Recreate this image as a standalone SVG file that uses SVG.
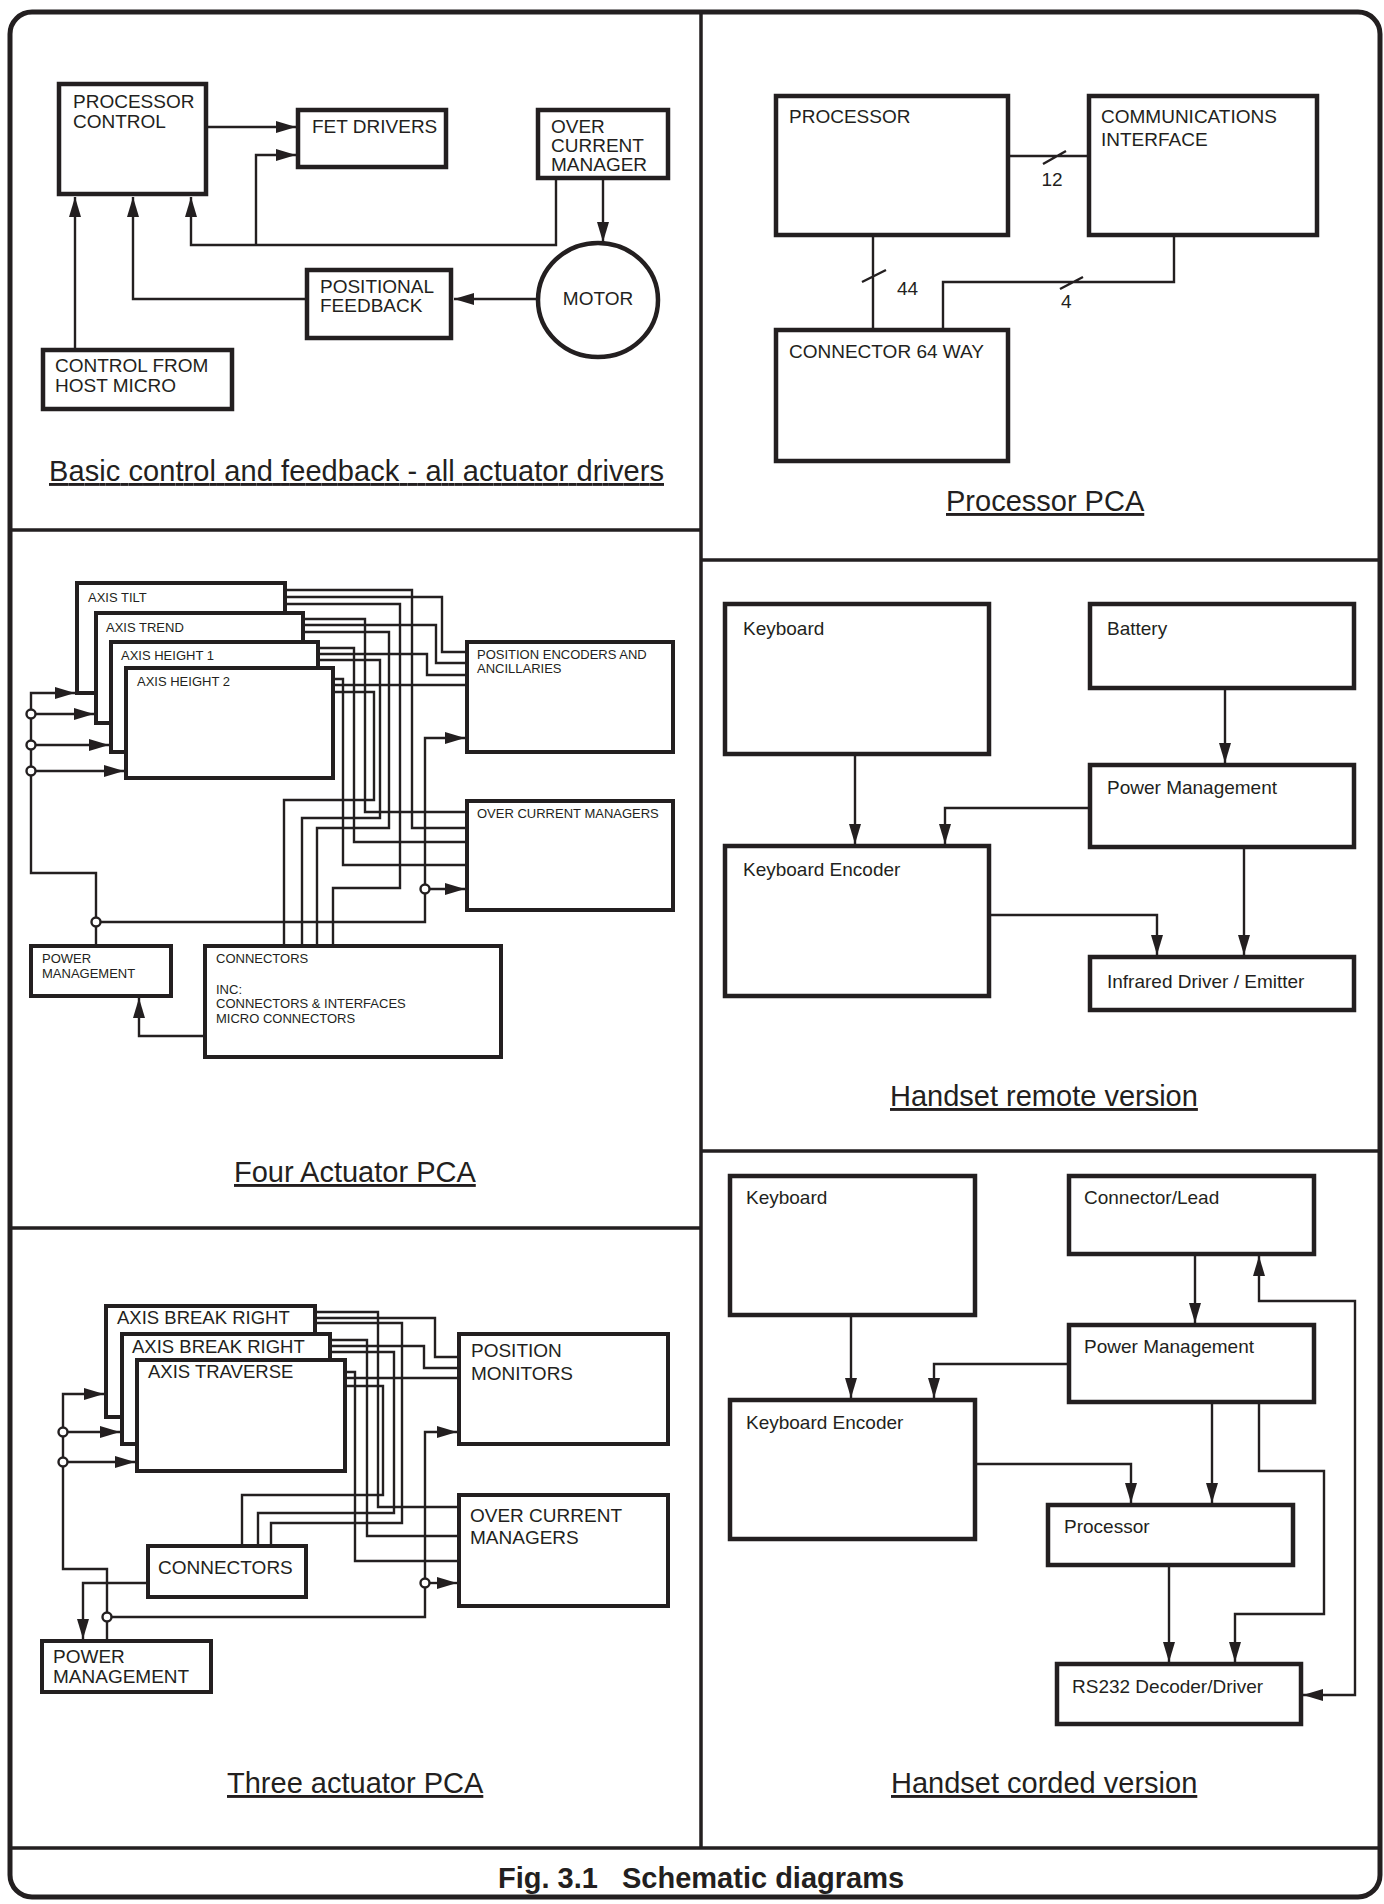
<svg xmlns="http://www.w3.org/2000/svg" width="1384" height="1904" viewBox="0 0 1384 1904">
<style>
.bg{fill:#fff}
.frame{fill:none;stroke:#231f20;stroke-width:5}
.div{fill:none;stroke:#231f20;stroke-width:3.5}
.box{fill:#fff;stroke:#231f20;stroke-width:4.5}
.sbox{fill:#fff;stroke:#231f20;stroke-width:4}
.w{fill:none;stroke:#231f20;stroke-width:2.4}
.a{marker-end:url(#ah)}
.jn{fill:#fff;stroke:#231f20;stroke-width:2.4}
text{font-family:'Liberation Sans',Arial,Helvetica,sans-serif;fill:#231f20}
.t19{font-size:19px}
.t18{font-size:18.5px}
.t13{font-size:13px}
.ttl{font-size:29px;text-decoration:underline}
.cap{font-size:29px;font-weight:bold}
</style>
<defs>
<marker id="ah" markerUnits="userSpaceOnUse" viewBox="0 0 20 12" markerWidth="20" markerHeight="12" refX="20" refY="6" orient="auto"><path d="M0,0 L20,6 L0,12 z" fill="#231f20"/></marker>
<marker id="ahs" markerUnits="userSpaceOnUse" viewBox="0 0 20 12" markerWidth="20" markerHeight="12" refX="20" refY="6" orient="auto-start-reverse"><path d="M0,0 L20,6 L0,12 z" fill="#231f20"/></marker>
</defs>
<rect class="bg" x="0" y="0" width="1384" height="1904"/>
<g id="frame">
<rect class="frame" x="10" y="12" width="1370" height="1885" rx="22"/>
<path class="div" d="M701,12 V1848 M10,530 H701 M10,1228 H701 M701,560 H1380 M701,1151 H1380 M10,1848 H1380"/>
</g>

<!-- Panel 1: Basic control -->
<g id="p1-processor-control"><rect class="box" x="59" y="84" width="147" height="110"/><text class="t19" x="73" y="108">PROCESSOR</text><text class="t19" x="73" y="128">CONTROL</text></g>
<g id="p1-fet-drivers"><rect class="box" x="298" y="110" width="148" height="57"/><text class="t19" x="312" y="133">FET DRIVERS</text></g>
<g id="p1-over-current"><rect class="box" x="538" y="110" width="130" height="68"/><text class="t19" x="551" y="133">OVER</text><text class="t19" x="551" y="152">CURRENT</text><text class="t19" x="551" y="171">MANAGER</text></g>
<g id="p1-motor"><ellipse class="box" cx="598" cy="300" rx="60" ry="57"/><text class="t19" x="598" y="305" text-anchor="middle">MOTOR</text></g>
<g id="p1-positional-feedback"><rect class="box" x="307" y="270" width="144" height="68"/><text class="t19" x="320" y="293">POSITIONAL</text><text class="t19" x="320" y="312">FEEDBACK</text></g>
<g id="p1-control-host"><rect class="box" x="43" y="350" width="189" height="59"/><text class="t19" x="55" y="372">CONTROL FROM</text><text class="t19" x="55" y="392">HOST MICRO</text></g>
<text class="ttl" x="49" y="481" textLength="615" lengthAdjust="spacing">Basic control and feedback - all actuator drivers</text>

<!-- Panel 2: Processor PCA -->
<g id="p2-processor"><rect class="box" x="776" y="96" width="232" height="139"/><text class="t19" x="789" y="123">PROCESSOR</text></g>
<g id="p2-comms"><rect class="box" x="1089" y="96" width="228" height="139"/><text class="t19" x="1101" y="123">COMMUNICATIONS</text><text class="t19" x="1101" y="146">INTERFACE</text></g>
<g id="p2-connector"><rect class="box" x="776" y="330" width="232" height="131"/><text class="t19" x="789" y="358">CONNECTOR 64 WAY</text></g>
<text class="ttl" x="946" y="511">Processor PCA</text>

<!-- Panel 3: Handset remote -->
<g id="p3-keyboard"><rect class="box" x="725" y="604" width="264" height="150"/><text class="t19" x="743" y="635">Keyboard</text></g>
<g id="p3-battery"><rect class="box" x="1090" y="604" width="264" height="84"/><text class="t19" x="1107" y="635">Battery</text></g>
<g id="p3-power"><rect class="box" x="1090" y="765" width="264" height="82"/><text class="t19" x="1107" y="794">Power Management</text></g>
<g id="p3-encoder"><rect class="box" x="725" y="846" width="264" height="150"/><text class="t19" x="743" y="876">Keyboard Encoder</text></g>
<g id="p3-infrared"><rect class="box" x="1090" y="957" width="264" height="53"/><text class="t19" x="1107" y="988">Infrared Driver / Emitter</text></g>
<text class="ttl" x="890" y="1106">Handset remote version</text>

<!-- Panel 4: Handset corded -->
<g id="p4-keyboard"><rect class="box" x="730" y="1176" width="245" height="139"/><text class="t19" x="746" y="1204">Keyboard</text></g>
<g id="p4-connector"><rect class="box" x="1069" y="1176" width="245" height="78"/><text class="t19" x="1084" y="1204">Connector/Lead</text></g>
<g id="p4-power"><rect class="box" x="1069" y="1325" width="245" height="77"/><text class="t19" x="1084" y="1353">Power Management</text></g>
<g id="p4-encoder"><rect class="box" x="730" y="1400" width="245" height="139"/><text class="t19" x="746" y="1429">Keyboard Encoder</text></g>
<g id="p4-processor"><rect class="box" x="1048" y="1505" width="245" height="60"/><text class="t19" x="1064" y="1533">Processor</text></g>
<g id="p4-rs232"><rect class="box" x="1057" y="1664" width="244" height="60"/><text class="t19" x="1072" y="1693">RS232 Decoder/Driver</text></g>
<text class="ttl" x="891" y="1793">Handset corded version</text>

<!-- Panel 5: Four actuator -->
<g id="p5-axis-tilt"><rect class="sbox" x="77" y="583" width="208" height="110"/><text class="t13" x="88" y="602">AXIS TILT</text></g>
<g id="p5-axis-trend"><rect class="sbox" x="96" y="613" width="207" height="110"/><text class="t13" x="106" y="632">AXIS TREND</text></g>
<g id="p5-axis-height1"><rect class="sbox" x="111" y="642" width="207" height="110"/><text class="t13" x="121" y="660">AXIS HEIGHT 1</text></g>
<g id="p5-axis-height2"><rect class="sbox" x="126" y="668" width="207" height="110"/><text class="t13" x="137" y="686">AXIS HEIGHT 2</text></g>
<g id="p5-encoders"><rect class="sbox" x="467" y="642" width="206" height="110"/><text class="t13" x="477" y="659">POSITION ENCODERS AND</text><text class="t13" x="477" y="673">ANCILLARIES</text></g>
<g id="p5-ocm"><rect class="sbox" x="467" y="801" width="206" height="109"/><text class="t13" x="477" y="818">OVER CURRENT MANAGERS</text></g>
<g id="p5-power"><rect class="sbox" x="31" y="946" width="140" height="50"/><text class="t13" x="42" y="963">POWER</text><text class="t13" x="42" y="978">MANAGEMENT</text></g>
<g id="p5-connectors"><rect class="sbox" x="205" y="946" width="296" height="111"/><text class="t13" x="216" y="963">CONNECTORS</text><text class="t13" x="216" y="994">INC:</text><text class="t13" x="216" y="1008">CONNECTORS &amp; INTERFACES</text><text class="t13" x="216" y="1023">MICRO CONNECTORS</text></g>
<text class="ttl" x="234" y="1182">Four Actuator PCA</text>

<!-- Panel 6: Three actuator -->
<g id="p6-break-right-1"><rect class="sbox" x="106" y="1306" width="209" height="111"/><text class="t18" x="117" y="1324">AXIS BREAK RIGHT</text></g>
<g id="p6-break-right-2"><rect class="sbox" x="122" y="1334" width="208" height="110"/><text class="t18" x="132" y="1353">AXIS BREAK RIGHT</text></g>
<g id="p6-traverse"><rect class="sbox" x="137" y="1360" width="208" height="111"/><text class="t18" x="148" y="1378">AXIS TRAVERSE</text></g>
<g id="p6-position-monitors"><rect class="sbox" x="459" y="1334" width="209" height="110"/><text class="t19" x="471" y="1357">POSITION</text><text class="t19" x="471" y="1380">MONITORS</text></g>
<g id="p6-ocm"><rect class="sbox" x="459" y="1495" width="209" height="111"/><text class="t19" x="470" y="1522">OVER CURRENT</text><text class="t19" x="470" y="1544">MANAGERS</text></g>
<g id="p6-connectors"><rect class="sbox" x="148" y="1546" width="158" height="51"/><text class="t19" x="158" y="1574">CONNECTORS</text></g>
<g id="p6-power"><rect class="sbox" x="42" y="1641" width="169" height="51"/><text class="t19" x="53" y="1663">POWER</text><text class="t19" x="53" y="1683">MANAGEMENT</text></g>
<text class="ttl" x="227" y="1793">Three actuator PCA</text>

<g id="caption"><text class="cap" x="498" y="1888">Fig. 3.1</text><text class="cap" x="622" y="1888">Schematic diagrams</text></g>

<g id="connectors">
<!-- panel 1 -->
<path class="w a" d="M208,127 H296"/>
<path class="w a" d="M256,245 V155 H296"/>
<path class="w a" d="M556,180 V245 H191 V197"/>
<path class="w a" d="M603,180 V242"/>
<path class="w a" d="M538,299 H454"/>
<path class="w a" d="M307,299 H133 V197"/>
<path class="w a" d="M75,348 V197"/>
<!-- panel 2 -->
<path class="w" d="M1008,156 H1089 M1043,164 L1066,151"/>
<path class="w" d="M873,235 V330 M862,282 L886,270"/>
<path class="w" d="M1174,235 V282 H943 V330 M1060,289 L1083,277"/>
<text class="t19" x="1052" y="186" text-anchor="middle">12</text>
<text class="t19" x="897" y="295">44</text>
<text class="t19" x="1061" y="308">4</text>
<!-- panel 3 -->
<path class="w a" d="M855,756 V844"/>
<path class="w a" d="M1225,690 V763"/>
<path class="w a" d="M1088,808 H945 V844"/>
<path class="w a" d="M991,915 H1157 V955"/>
<path class="w a" d="M1244,849 V955"/>
<!-- panel 4 -->
<path class="w a" d="M851,1317 V1398"/>
<path class="w a" d="M1195,1256 V1323"/>
<path class="w a" d="M1067,1364 H934 V1398"/>
<path class="w a" d="M977,1464 H1131 V1503"/>
<path class="w a" d="M1212,1404 V1503"/>
<path class="w a" d="M1259,1404 V1471 H1324 V1614 H1235 V1662"/>
<path class="w a" d="M1169,1567 V1662"/>
<path class="w a" d="M1303,1695 H1355 V1301 H1259 V1256" style="marker-start:url(#ahs)"/>
<!-- panel 5 wires -->
<path class="w" d="M287,590 H412 V828 H465"/>
<path class="w" d="M287,597 H442 V652 H465"/>
<path class="w" d="M287,604 H400 V888 H333 V944"/>
<path class="w" d="M305,619 H365 V812 H465"/>
<path class="w" d="M305,625 H436 V663 H465"/>
<path class="w" d="M305,632 H389 V828 H317 V944"/>
<path class="w" d="M320,648 H354 V842 H465"/>
<path class="w" d="M320,654 H427 V675 H465"/>
<path class="w" d="M320,660 H380 V818 H302 V944"/>
<path class="w" d="M335,679 H343 V865 H465"/>
<path class="w" d="M335,685 H465"/>
<path class="w" d="M335,692 H374 V800 H284 V944"/>
<path class="w a" d="M96,944 V873 H31 V693 H75"/>
<path class="w a" d="M31,714 H94"/>
<path class="w a" d="M31,745 H109"/>
<path class="w a" d="M31,771 H124"/>
<path class="w a" d="M96,922 H425 V738 H465"/>
<path class="w a" d="M425,889 H465"/>
<path class="w a" d="M203,1036 H139 V998"/>
<circle class="jn" cx="31" cy="714" r="4.5"/>
<circle class="jn" cx="31" cy="745" r="4.5"/>
<circle class="jn" cx="31" cy="771" r="4.5"/>
<circle class="jn" cx="96" cy="922" r="4.5"/>
<circle class="jn" cx="425" cy="889" r="4.5"/>
<!-- panel 6 wires -->
<path class="w" d="M317,1312 H378 V1507 H457"/>
<path class="w" d="M317,1318 H435 V1357 H457"/>
<path class="w" d="M317,1323 H402 V1523 H271 V1544"/>
<path class="w" d="M332,1340 H367 V1536 H457"/>
<path class="w" d="M332,1346 H424 V1368 H457"/>
<path class="w" d="M332,1352 H394 V1513 H258 V1544"/>
<path class="w" d="M347,1372 H355 V1561 H457"/>
<path class="w" d="M347,1378 H457"/>
<path class="w" d="M347,1386 H383 V1495 H242 V1544"/>
<path class="w a" d="M107,1639 V1569 H63 V1394 H104"/>
<path class="w a" d="M63,1432 H120"/>
<path class="w a" d="M63,1462 H135"/>
<path class="w a" d="M107,1617 H425 V1432 H457"/>
<path class="w a" d="M425,1583 H457"/>
<path class="w a" d="M146,1583 H83 V1639"/>
<circle class="jn" cx="63" cy="1432" r="4.5"/>
<circle class="jn" cx="63" cy="1462" r="4.5"/>
<circle class="jn" cx="107" cy="1617" r="4.5"/>
<circle class="jn" cx="425" cy="1583" r="4.5"/>
</g>
</svg>
